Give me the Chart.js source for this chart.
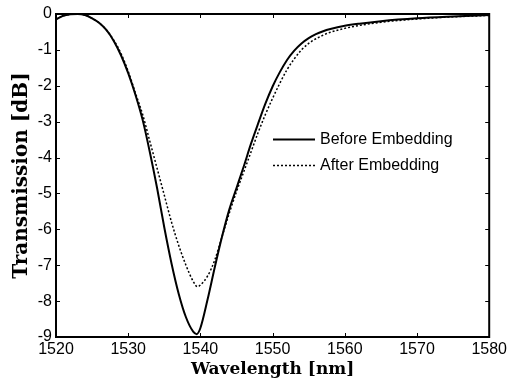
<!DOCTYPE html>
<html>
<head>
<meta charset="utf-8">
<script src="https://cdn.jsdelivr.net/npm/chart.js@4"></script>
<style>
  html, body { margin: 0; padding: 0; background: #fff; }
  #wrap { width: 510px; height: 383px; }
</style>
</head>
<body>
<div id="wrap"><canvas id="out" width="510" height="383"></canvas></div>
<script>
// wavelength samples [nm]
const waveBefore = [1520, 1521, 1522, 1523, 1524, 1525, 1526, 1527, 1528, 1529, 1530, 1531, 1532, 1533, 1534, 1535, 1536, 1537, 1538, 1539, 1539.5, 1540, 1541, 1542, 1543, 1544, 1545, 1546, 1547, 1548, 1549, 1550, 1551, 1552, 1553, 1554, 1555, 1556, 1557, 1558, 1560, 1562, 1565, 1570, 1575, 1580];
const transBefore = [-0.15, -0.05, -0.01, 0, -0.03, -0.12, -0.25, -0.45, -0.75, -1.15, -1.65, -2.25, -2.95, -3.85, -4.85, -5.95, -6.95, -7.8, -8.45, -8.85, -8.92, -8.75, -7.95, -7.05, -6.2, -5.45, -4.85, -4.25, -3.62, -3.05, -2.5, -2.02, -1.62, -1.28, -1.02, -0.82, -0.67, -0.56, -0.48, -0.42, -0.33, -0.27, -0.2, -0.12, -0.07, -0.03];

const waveAfter = [1520, 1521, 1522, 1523, 1524, 1525, 1526, 1527, 1528, 1529, 1530, 1531, 1532, 1533, 1534, 1535, 1536, 1537, 1538, 1539, 1539.6, 1540, 1541, 1542, 1543, 1544, 1545, 1546, 1547, 1548, 1549, 1550, 1551, 1552, 1553, 1554, 1555, 1556, 1557, 1558, 1560, 1562, 1565, 1570, 1575, 1580];
const transAfter = [-0.15, -0.05, -0.01, 0, -0.03, -0.12, -0.25, -0.45, -0.73, -1.1, -1.6, -2.2, -2.8, -3.55, -4.3, -5.05, -5.8, -6.45, -7.0, -7.45, -7.6, -7.55, -7.3, -6.85, -6.2, -5.55, -4.95, -4.4, -3.85, -3.3, -2.8, -2.35, -1.93, -1.55, -1.25, -1.0, -0.82, -0.69, -0.59, -0.51, -0.4, -0.32, -0.23, -0.14, -0.08, -0.04];

const seriesNames = ["Before Embedding", "After Embedding"];
const xTicks = [1520, 1530, 1540, 1550, 1560, 1570, 1580];
const yTicks = [0, -1, -2, -3, -4, -5, -6, -7, -8, -9];

function toPoints(xs, ys) {
  return xs.map((x, i) => ({ x: x, y: ys[i] }));
}

// box, inward ticks and legend like the original figure
const framePlugin = {
  id: "frame",
  afterDraw(chart) {
    const ctx = chart.ctx;
    const a = chart.chartArea;
    const sx = chart.scales.x;
    const sy = chart.scales.y;
    ctx.save();
    ctx.strokeStyle = "#000";
    ctx.lineWidth = 1;
    ctx.beginPath();
    xTicks.forEach(v => {
      const px = Math.round(sx.getPixelForValue(v)) + 0.5;
      ctx.moveTo(px, a.bottom); ctx.lineTo(px, a.bottom - 4);
      ctx.moveTo(px, a.top); ctx.lineTo(px, a.top + 4);
    });
    yTicks.forEach(v => {
      const py = Math.round(sy.getPixelForValue(v)) + 0.5;
      ctx.moveTo(a.left, py); ctx.lineTo(a.left + 4, py);
      ctx.moveTo(a.right, py); ctx.lineTo(a.right - 4, py);
    });
    ctx.stroke();
    ctx.lineWidth = 2;
    ctx.strokeRect(a.left, a.top, a.right - a.left, a.bottom - a.top);

    // legend
    const lx = 273, tx = 320;
    const rows = [139, 165];
    ctx.font = "16px 'Liberation Sans', Arial, sans-serif";
    ctx.fillStyle = "#000";
    ctx.textBaseline = "middle";
    rows.forEach((ry, i) => {
      const ds = chart.data.datasets[i];
      ctx.lineWidth = ds.borderWidth;
      ctx.setLineDash(ds.borderDash || []);
      ctx.beginPath();
      ctx.moveTo(lx, ry + 0.5);
      ctx.lineTo(lx + 42, ry + 0.5);
      ctx.stroke();
      ctx.setLineDash([]);
      ctx.fillText(seriesNames[i], tx, ry + 1);
    });
    ctx.restore();
  }
};

const tickFont = { family: "'Liberation Sans', Arial, sans-serif", size: 16 };

const chartConfig = {
  type: "line",
  data: {
    datasets: [
      {
        label: seriesNames[0],
        data: toPoints(waveBefore, transBefore),
        borderColor: "#000",
        borderWidth: 2,
        pointRadius: 0,
        cubicInterpolationMode: "monotone"
      },
      {
        label: seriesNames[1],
        data: toPoints(waveAfter, transAfter),
        borderColor: "#000",
        borderWidth: 1.5,
        borderDash: [2, 2],
        pointRadius: 0,
        cubicInterpolationMode: "monotone"
      }
    ]
  },
  options: {
    responsive: false,
    animation: false,
    layout: { padding: { left: 0, top: 14, right: 18, bottom: 0 } },
    plugins: { legend: { display: false }, tooltip: { enabled: false } },
    scales: {
      x: {
        type: "linear",
        min: 1520,
        max: 1580,
        afterFit: s => { s.height = 46; },
        afterBuildTicks: s => { s.ticks = xTicks.map(v => ({ value: v })); },
        grid: { display: false, drawTicks: false },
        border: { display: false },
        ticks: { color: "#000", padding: 3, font: tickFont, callback: v => String(v) },
        title: {
          display: true,
          text: "Wavelength [nm]",
          color: "#000",
          padding: { top: 0, bottom: 3 },
          font: { family: "'DejaVu Serif', serif", size: 17, weight: "bold" }
        }
      },
      y: {
        min: -9,
        max: 0,
        afterFit: s => { s.width = 56; },
        afterBuildTicks: s => { s.ticks = yTicks.map(v => ({ value: v })); },
        grid: { display: false, drawTicks: false },
        border: { display: false },
        ticks: { color: "#000", padding: 4, font: tickFont, callback: v => String(v) },
        title: {
          display: true,
          text: "Transmission [dB]",
          color: "#000",
          padding: { top: 10, bottom: 0 },
          font: { family: "'DejaVu Serif', serif", size: 20, weight: "bold" }
        }
      }
    }
  },
  plugins: [framePlugin]
};

const canvasCtx = document.getElementById("out").getContext("2d");
window.chart = new Chart(canvasCtx, chartConfig);
</script>
</body>
</html>
